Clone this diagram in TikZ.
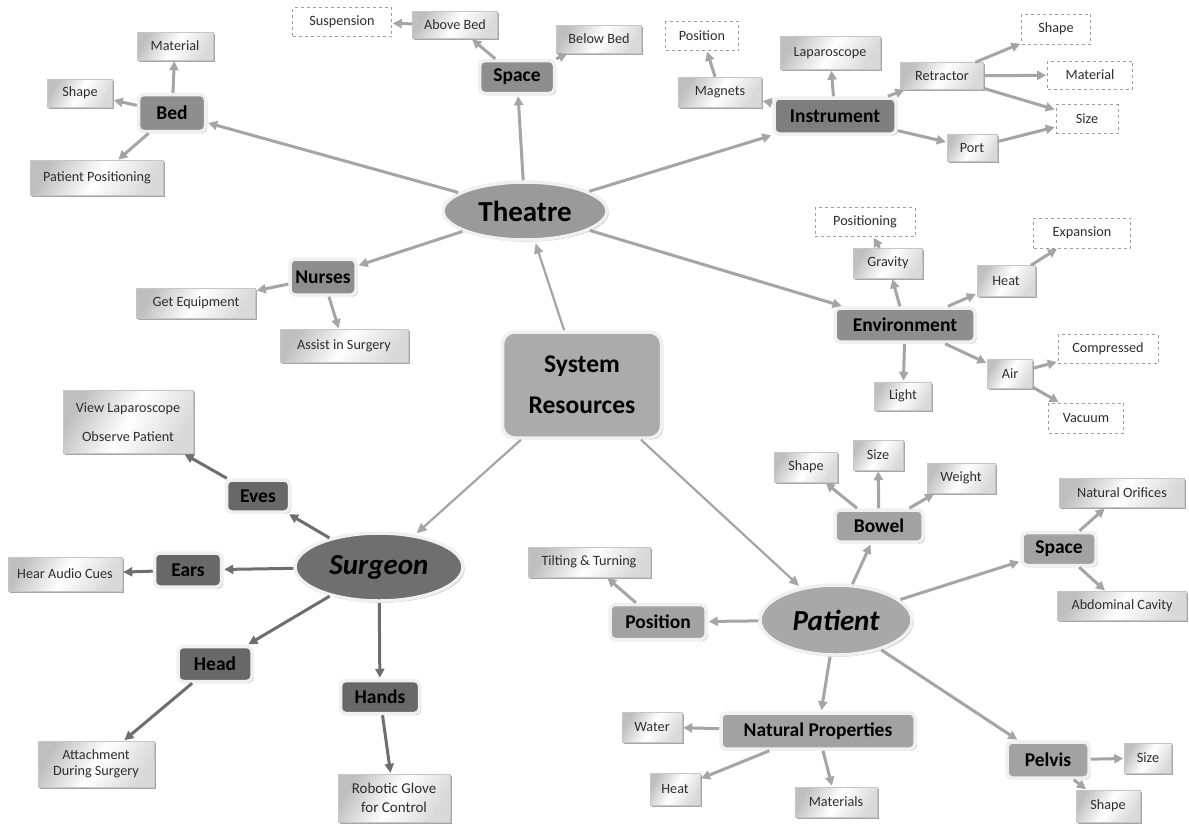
\documentclass[tikz,border=0pt]{standalone}
\usepackage{fontspec}
\setmainfont{Carlito}
\usetikzlibrary{arrows.meta,shapes.geometric,shadows}
\definecolor{cline}{HTML}{A5A5A5}
\definecolor{dline}{HTML}{6E6E6E}
\definecolor{ltext}{HTML}{2E2E2E}
\definecolor{halo}{HTML}{F0F0F0}
\definecolor{fmid}{HTML}{8E8E8E}
\definecolor{finst}{HTML}{7E7E7E}
\definecolor{fsub}{HTML}{686868}
\definecolor{fpat}{HTML}{A2A2A2}
\definecolor{fth}{HTML}{9A9A9A}
\definecolor{fsr}{HTML}{ABABAB}
\definecolor{fsurg}{HTML}{6F6F6F}
\definecolor{fpatient}{HTML}{A8A8A8}
\newcommand\leaffont{\fontsize{14.2}{16.5}\selectfont}
\newcommand\midfont{\fontsize{19.5}{22}\selectfont\bfseries}
\newcommand\bigfont{\fontsize{29}{33}\selectfont\bfseries}
\newcommand\srfont{\fontsize{25.5}{30}\selectfont\bfseries}
\tikzset{
  sz/.style 2 args={minimum width=#1pt,minimum height=#2pt},
  shad/.style={drop shadow={shadow xshift=1.6pt,shadow yshift=-1.6pt,fill=gray!70,opacity=1}},
  leaf/.style={rectangle,inner sep=0pt,draw=gray!45,line width=0.5pt,
    left color=gray!50,right color=gray!30,middle color=white,shading angle=60,
    shad,font=\leaffont,text=ltext,align=center},
  dleaf/.style={rectangle,inner sep=0pt,draw=gray!75,dashed,line width=0.6pt,
    fill=white,font=\leaffont,text=ltext},
  mid/.style={rectangle,rounded corners=5pt,inner sep=0pt,draw=halo,line width=3.5pt,
    fill=#1,shad,font=\midfont,text=black},
  mid/.default=fmid,
  bigell/.style={ellipse,inner sep=0pt,draw=halo,line width=3.5pt,fill=#1,shad,
    font=\bigfont,text=black},
  conn/.style={draw=cline,line width=3pt,-{Triangle[length=9pt,width=9pt]},shorten >=1pt},
  dconn/.style={conn,draw=dline},
  tconn/.style={draw=cline,line width=2.2pt,-{Triangle[length=10pt,width=9pt]},shorten >=2pt},
}
\begin{document}
\begin{tikzpicture}[x=1pt,y=-1pt]
\fill[white] (0,0) rectangle (1189,823);
\useasboundingbox (0,0) rectangle (1189,823);

% central nodes
\node[mid=fsr,rounded corners=12pt,sz={159}{106},font=\srfont,align=center] (sr) at (582,385) {System\\[11pt]Resources};
\node[bigell=fth,sz={164}{58}] (th) at (525,211) {Theatre};
\node[bigell=fsurg,sz={168}{68},font=\bigfont\itshape] (su) at (379,567) {Surgeon};
\node[bigell=fpatient,sz={152}{70},font=\bigfont\itshape] (pa) at (836,620) {Patient};

% theatre branch
\node[mid,sz={67}{37}] (bed) at (172,113) {Bed};
\node[leaf,sz={76}{28}] (bmat) at (175,46) {Material};
\node[leaf,sz={65}{28}] (bsha) at (80,93) {Shape};
\node[leaf,sz={133}{35}] (bpp) at (97,178) {Patient Positioning};

\node[mid,sz={75}{33}] (spc) at (517,77) {Space};
\node[leaf,sz={85}{27}] (abv) at (455,25) {Above Bed};
\node[dleaf,sz={99}{29}] (sus) at (342,22) {Suspension};
\node[leaf,sz={85}{28}] (bel) at (599,39) {Below Bed};

\node[mid=finst,sz={122}{36}] (ins) at (835,116) {Instrument};
\node[leaf,sz={83}{30}] (mag) at (720,92) {Magnets};
\node[dleaf,sz={73}{29}] (ipos) at (702,36) {Position};
\node[leaf,sz={100}{33}] (lap) at (830,53) {Laparoscope};
\node[leaf,sz={83}{27}] (ret) at (942,76) {Retractor};
\node[dleaf,sz={69}{30}] (rsha) at (1056,29) {Shape};
\node[dleaf,sz={85}{28}] (rmat) at (1090,75) {Material};
\node[dleaf,sz={62}{29}] (rsiz) at (1087,119) {Size};
\node[leaf,sz={50}{27}] (port) at (972,148) {Port};

\node[mid,sz={66}{36}] (nur) at (323,277) {Nurses};
\node[leaf,sz={119}{30}] (ge) at (196,303) {Get Equipment};
\node[leaf,sz={128}{33}] (ais) at (344,346) {Assist in Surgery};

\node[mid,sz={140}{34}] (env) at (905,325) {Environment};
\node[leaf,sz={69}{30}] (gra) at (888,263) {Gravity};
\node[dleaf,sz={100}{29}] (epos) at (865,222) {Positioning};
\node[leaf,sz={57}{28}] (lig) at (903,396) {Light};
\node[leaf,sz={58}{31}] (hea) at (1006,281) {Heat};
\node[dleaf,sz={97}{30}] (exp) at (1082,233) {Expansion};
\node[leaf,sz={45}{29}] (air) at (1010,374) {Air};
\node[dleaf,sz={100}{29}] (com) at (1108,349) {Compressed};
\node[dleaf,sz={75}{30}] (vac) at (1086,418) {Vacuum};

% surgeon branch
\node[mid=fsub,sz={63}{32}] (eye) at (258,496) {Eves};
\node[leaf,sz={130}{63}] (vl) at (128,422) {View Laparoscope\\[13pt]Observe Patient};
\node[mid=fsub,sz={67}{34}] (ear) at (188,570) {Ears};
\node[leaf,sz={114}{34}] (hac) at (65,574) {Hear Audio Cues};
\node[mid=fsub,sz={74}{35}] (head) at (215,664) {Head};
\node[leaf,sz={116}{46}] (att) at (96,764) {Attachment\\During Surgery};
\node[mid=fsub,sz={79}{33}] (hands) at (380,697) {Hands};
\node[leaf,sz={112}{48},font=\fontsize{15}{19}\selectfont] (rob) at (394,798) {Robotic Glove\\for Control};

% patient branch
\node[mid=fpat,sz={88}{32}] (bow) at (879,526) {Bowel};
\node[leaf,sz={63}{30}] (bsh) at (806,467) {Shape};
\node[leaf,sz={50}{30}] (bsz) at (878,455) {Size};
\node[leaf,sz={68}{30}] (bwt) at (961,478) {Weight};
\node[mid=fpat,sz={74}{33}] (psp) at (1059,549) {Space};
\node[leaf,sz={125}{29}] (nor) at (1122,493) {Natural Orifices};
\node[leaf,sz={129}{29}] (abd) at (1122,606) {Abdominal Cavity};
\node[mid=fpat,sz={96}{35}] (pos) at (658,622) {Position};
\node[leaf,sz={122}{30}] (tt) at (589,562) {Tilting \& Turning};
\node[mid=fpat,sz={194}{36}] (np) at (818,731) {Natural Properties};
\node[leaf,sz={60}{30}] (wat) at (652,727) {Water};
\node[leaf,sz={50}{32}] (pht) at (675,789) {Heat};
\node[leaf,sz={82}{30}] (mats) at (836,802) {Materials};
\node[mid=fpat,sz={82}{36}] (pel) at (1048,760) {Pelvis};
\node[leaf,sz={47}{30}] (psz) at (1148,758) {Size};
\node[leaf,sz={64}{32}] (psh) at (1108,806) {Shape};

% connectors
\draw[tconn] (sr) -- (th);
\draw[tconn] (sr) -- (su);
\draw[tconn] (sr) -- (pa);

\draw[conn] (th) -- (bed);
\draw[conn] (th) -- (spc);
\draw[conn] (th) -- (ins);
\draw[conn] (th) -- (nur);
\draw[conn] (th) -- (env);

\draw[conn] (bed) -- (bmat);
\draw[conn] (bed) -- (bsha);
\draw[conn] (bed) -- (bpp);
\draw[conn] (spc) -- (abv);
\draw[conn] (spc) -- (bel);
\draw[conn] (abv) -- (sus);
\draw[conn] (ins) -- (mag);
\draw[conn] (mag) -- (ipos);
\draw[conn] (ins) -- (lap);
\draw[conn] (ins) -- (ret);
\draw[conn] (ins) -- (port);
\draw[conn] (ret) -- (rsha);
\draw[conn] (ret) -- (rmat);
\draw[conn] (ret) -- (rsiz);
\draw[conn] (port) -- (rsiz);
\draw[conn] (nur) -- (ge);
\draw[conn] (nur) -- (ais);
\draw[conn] (env) -- (gra);
\draw[conn] (gra) -- (epos);
\draw[conn] (env) -- (lig);
\draw[conn] (env) -- (hea);
\draw[conn] (hea) -- (exp);
\draw[conn] (env) -- (air);
\draw[conn] (air) -- (com);
\draw[conn] (air) -- (vac);

\draw[dconn] (su) -- (eye);
\draw[dconn] (su) -- (ear);
\draw[dconn] (su) -- (head);
\draw[dconn] (su) -- (hands);
\draw[dconn] (eye) -- (vl);
\draw[dconn] (ear) -- (hac);
\draw[dconn] (head) -- (att);
\draw[dconn] (hands) -- (rob);

\draw[conn] (pa) -- (bow);
\draw[conn] (pa) -- (psp);
\draw[conn] (pa) -- (pos);
\draw[conn] (pa) -- (np);
\draw[conn] (pa) -- (pel);
\draw[conn] (bow) -- (bsh);
\draw[conn] (bow) -- (bsz);
\draw[conn] (bow) -- (bwt);
\draw[conn] (psp) -- (nor);
\draw[conn] (psp) -- (abd);
\draw[conn] (pos) -- (tt);
\draw[conn] (np) -- (wat);
\draw[conn] (np) -- (pht);
\draw[conn] (np) -- (mats);
\draw[conn] (pel) -- (psz);
\draw[conn] (pel) -- (psh);
\end{tikzpicture}
\end{document}
